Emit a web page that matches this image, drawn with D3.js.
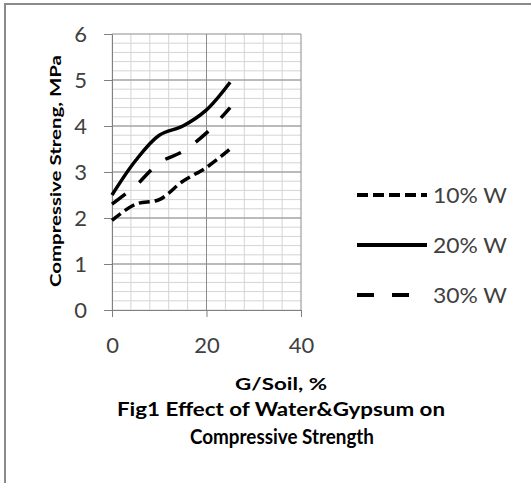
<!DOCTYPE html>
<html>
<head>
<meta charset="utf-8">
<title>Effect of Water & Gypsum on Compressive Strength</title>
<script src="https://d3js.org/d3.v7.min.js"></script>
<style>
  html, body { margin: 0; padding: 0; background: #fff; }
  svg { display: block; font-family: Lato, "Open Sans", sans-serif; }
</style>
</head>
<body>
<svg width="531" height="483"></svg>
<script>
// values
const gypsum = [0, 5, 10, 15, 20, 25];          // G/Soil, %
const w10 = [1.95, 2.3, 2.4, 2.8, 3.1, 3.5];
const w20 = [2.5, 3.25, 3.8, 4.0, 4.35, 4.95];
const w30 = [2.3, 2.7, 3.2, 3.45, 3.85, 4.4];
const seriesNames = ["10% W", "20% W", "30% W"];
const xTicks = [0, 20, 40];
const yTicks = [0, 1, 2, 3, 4, 5, 6];

const svg = d3.select("svg");

// outer frame (only top and left edges show)
svg.append("line").attr("x1", 4).attr("y1", 4).attr("x2", 531).attr("y2", 4)
  .attr("stroke", "#8a8a8a").attr("stroke-width", 2);
svg.append("line").attr("x1", 5).attr("y1", 4).attr("x2", 5).attr("y2", 483)
  .attr("stroke", "#8a8a8a").attr("stroke-width", 2);

const x = d3.scaleLinear().domain([0, 40]).range([112, 301]);
const y = d3.scaleLinear().domain([0, 6]).range([310, 34]);

const grid = svg.append("g");
// minor grid
grid.selectAll("line.hmin").data(d3.range(0, 30).map(i => i * 0.2))
  .enter().append("line")
  .attr("x1", x(0)).attr("x2", x(40))
  .attr("y1", d => y(d)).attr("y2", d => y(d))
  .attr("stroke", "#d4d4d4").attr("stroke-width", 1);
grid.selectAll("line.vmin").data(d3.range(0, 10).map(i => i * 4))
  .enter().append("line")
  .attr("y1", y(0)).attr("y2", y(6))
  .attr("x1", d => x(d)).attr("x2", d => x(d))
  .attr("stroke", "#d4d4d4").attr("stroke-width", 1);
// major grid
grid.selectAll("line.hmaj").data(yTicks.slice(1))
  .enter().append("line")
  .attr("x1", x(0)).attr("x2", x(40))
  .attr("y1", d => y(d)).attr("y2", d => y(d))
  .attr("stroke", "#8c8c8c").attr("stroke-width", 1);
grid.selectAll("line.vmaj").data(xTicks.slice(1))
  .enter().append("line")
  .attr("y1", y(0)).attr("y2", y(6))
  .attr("x1", d => x(d)).attr("x2", d => x(d))
  .attr("stroke", "#8c8c8c").attr("stroke-width", 1);

// axes
const yAxis = svg.append("g").attr("transform", `translate(${x(0)},0)`)
  .call(d3.axisLeft(y).tickValues(yTicks).tickFormat(d3.format("d"))
    .tickSize(8).tickPadding(17));
const xAxis = svg.append("g").attr("transform", `translate(0,${y(0)})`)
  .call(d3.axisBottom(x).tickValues(xTicks).tickFormat(d3.format("d"))
    .tickSize(7).tickPadding(20));
[xAxis, yAxis].forEach(a => {
  a.select(".domain").attr("stroke", "#808080");
  a.selectAll(".tick line").attr("stroke", "#808080");
  a.selectAll(".tick text").attr("fill", "#404040")
    .style("font-size", "22px").style("font-family", "Lato, sans-serif");
});

// lines
const series = [
  { name: seriesNames[0], values: w10, dash: "11,5" },
  { name: seriesNames[1], values: w20, dash: null },
  { name: seriesNames[2], values: w30, dash: "17,18" }
];
const line = d3.line()
  .x((d, i) => x(gypsum[i]))
  .y(d => y(d))
  .curve(d3.curveCatmullRom.alpha(0.5));

svg.append("g").selectAll("path").data(series).enter().append("path")
  .attr("d", d => line(d.values))
  .attr("fill", "none")
  .attr("stroke", "#000")
  .attr("stroke-width", 3.5)
  .attr("stroke-dasharray", d => d.dash);

// legend
const leg = svg.append("g").selectAll("g").data(series).enter().append("g")
  .attr("transform", (d, i) => `translate(357,${195 + i * 50})`);
leg.append("line").attr("x1", 0).attr("x2", 70).attr("y1", 0).attr("y2", 0)
  .attr("stroke", "#000").attr("stroke-width", 4)
  .attr("stroke-dasharray", d => d.dash);
leg.append("text").attr("x", 76).attr("y", 8)
  .attr("fill", "#404040").style("font-size", "21px")
  .attr("textLength", 74).attr("lengthAdjust", "spacingAndGlyphs")
  .text(d => d.name);

// axis titles
svg.append("text")
  .attr("transform", "translate(61,171) rotate(-90)")
  .attr("text-anchor", "middle")
  .style("font-size", "16px").style("font-weight", "bold")
  .attr("textLength", 232).attr("lengthAdjust", "spacingAndGlyphs")
  .text("Compressive Streng,  MPa");

svg.append("text")
  .attr("x", 281).attr("y", 390).attr("text-anchor", "middle")
  .style("font-size", "17px").style("font-weight", "bold")
  .attr("textLength", 92).attr("lengthAdjust", "spacingAndGlyphs")
  .text("G/Soil, %");

svg.append("text")
  .attr("x", 281).attr("y", 416).attr("text-anchor", "middle")
  .style("font-size", "19px").style("font-weight", "bold")
  .attr("textLength", 328).attr("lengthAdjust", "spacingAndGlyphs")
  .text("Fig1 Effect of Water&Gypsum on");

svg.append("text")
  .attr("x", 282).attr("y", 444).attr("text-anchor", "middle")
  .style("font-size", "20px").style("font-weight", "bold")
  .attr("textLength", 184).attr("lengthAdjust", "spacingAndGlyphs")
  .text("Compressive Strength");
</script>
</body>
</html>
